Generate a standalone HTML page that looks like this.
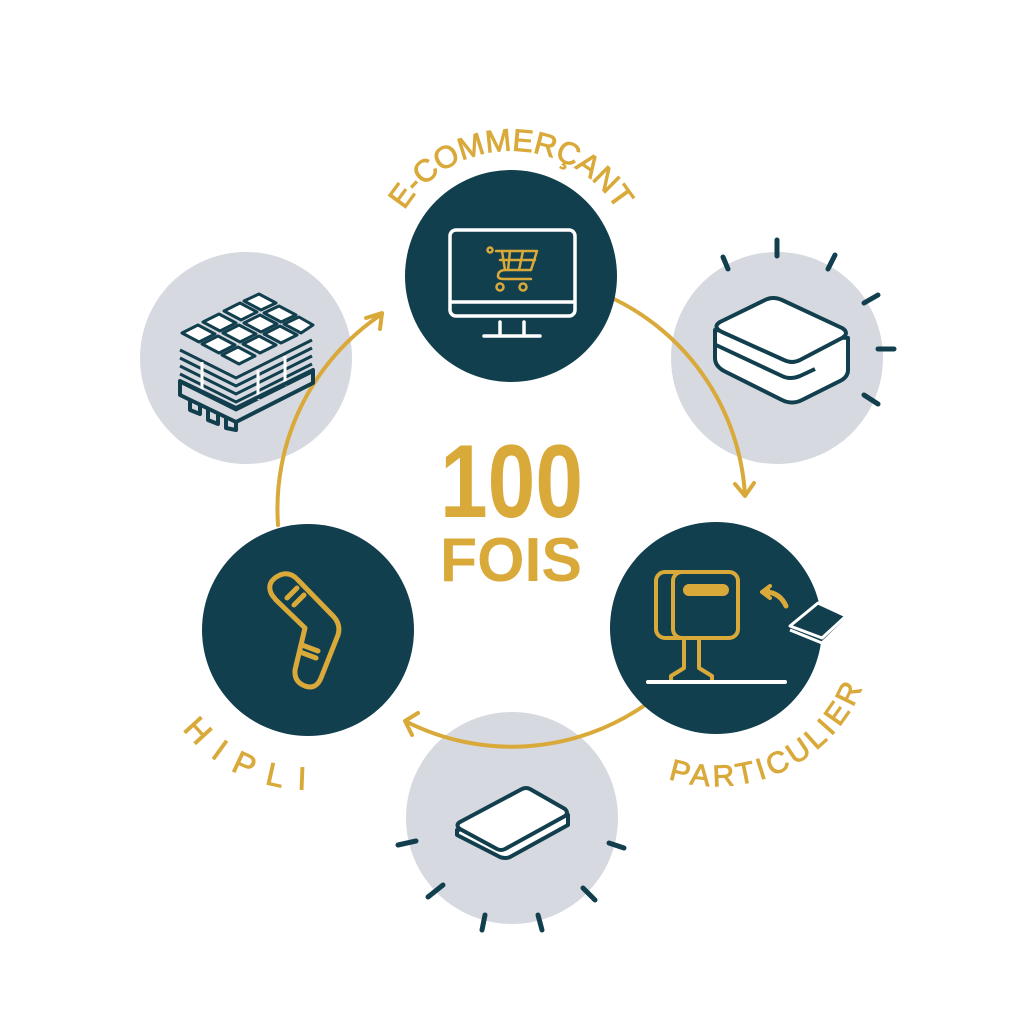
<!DOCTYPE html>
<html><head><meta charset="utf-8"><style>html,body{margin:0;padding:0;background:#fff}svg{display:block}</style></head>
<body>
<svg width="1024" height="1024" viewBox="0 0 1024 1024" xmlns="http://www.w3.org/2000/svg" font-family="Liberation Sans, sans-serif">
<defs>
<path id="pTop" d="M 393.5,233.2 A 125,125 0 0 1 628.5,233.2"/>
<path id="pRight" d="M 637,765 A 158,158 0 0 0 871.6,655.4"/>
<path id="pLeft" d="M 169.4,710 A 160,160 0 0 0 322,789"/>
</defs>
<circle cx="777" cy="358" r="106" fill="#d6d9e0"/>
<circle cx="512" cy="818" r="106" fill="#d6d9e0"/>
<circle cx="246" cy="358" r="106" fill="#d6d9e0"/>
<g fill="none" stroke="#d9a93a" stroke-width="4" stroke-linecap="round" stroke-linejoin="round">
<path d="M 612,298 A 234,234 0 0 1 745,495"/>
<path d="M 735,484 L 745,496 L 754,483"/>
<path d="M 645,705 A 234,234 0 0 1 407,722"/>
<path d="M 418,713 L 405,721 L 412,735"/>
<path d="M 278,525 A 234,234 0 0 1 382,314"/>
<path d="M 366,318 L 382,313 L 380,329"/>
</g>
<circle cx="511" cy="276" r="106" fill="#123f4e"/>
<circle cx="716" cy="628" r="106" fill="#123f4e"/>
<circle cx="308" cy="630" r="106" fill="#123f4e"/>
<g stroke="#123f4e" stroke-width="5" stroke-linecap="round">
<line x1="723" y1="257" x2="728" y2="269"/><line x1="777" y1="240" x2="777" y2="256"/>
<line x1="835" y1="255" x2="828" y2="269"/><line x1="878" y1="295" x2="864" y2="303"/>
<line x1="878" y1="349" x2="894" y2="349"/><line x1="864" y1="395" x2="878" y2="404"/>
<line x1="398" y1="845" x2="416" y2="841"/><line x1="428" y1="897" x2="443" y2="885"/>
<line x1="485" y1="915" x2="482" y2="930"/><line x1="538" y1="915" x2="542" y2="930"/>
<line x1="583" y1="888" x2="595" y2="900"/><line x1="609" y1="843" x2="624" y2="848"/>
</g>
<g stroke="#123f4e" stroke-width="4" fill="#fff" stroke-linejoin="round">
<path d="M 715,330 L 715,358 Q 715,366 724,371 L 782,400 Q 792,405 802,400 L 840,381 Q 848,377 848,370 L 848,338 Z"/>
<path d="M 720,322 L 765,300 Q 773,296 782,300 L 842,328 Q 850,333 842,338 L 800,360 Q 792,364 784,360 L 722,332 Q 712,327 720,322 Z"/>
<path d="M 716,345 L 782,376 Q 790,380 800,376 L 815,369" fill="none"/>
</g>
<g stroke="#123f4e" stroke-width="4" fill="#fff" stroke-linejoin="round">
<path d="M 457,830 L 457,835 L 500,857 Q 505,859 510,857 L 568,825 L 568,815 Z"/>
<path d="M 460,822 L 522,789 Q 526,787 530,789 L 565,809 Q 569,813 565,816 L 505,849 Q 501,851 497,849 L 460,829 Q 455,825 460,822 Z"/>
</g>
<g stroke="#123f4e" stroke-width="3" fill="none">
<path d="M 180,350 L 236,378 L 312,340"/>
<path d="M 180,358 L 236,386 L 312,348"/>
<path d="M 180,366 L 236,394 L 312,356"/>
<path d="M 180,374 L 236,402 L 312,364"/>
<path d="M 180,382 L 236,410 L 312,372"/>
<path d="M 202,362 L 202,392 M 258,370 L 258,400 M 285,356 L 285,386" stroke="#fff" stroke-width="3"/>
</g>
<g stroke="#123f4e" stroke-width="3" fill="#fff" stroke-linejoin="round">
<path d="M 182,333 L 198,325 L 215,334 L 199,342 Z"/><path d="M 203,322 L 219,314 L 236,323 L 220,331 Z"/>
<path d="M 224,311 L 240,303 L 257,312 L 241,320 Z"/><path d="M 244,301 L 259,294 L 276,303 L 261,310 Z"/>
<path d="M 202,344 L 218,336 L 235,345 L 219,353 Z"/><path d="M 223,333 L 239,325 L 256,334 L 240,342 Z"/>
<path d="M 244,323 L 260,315 L 277,324 L 261,332 Z"/><path d="M 264,313 L 279,306 L 296,315 L 281,322 Z"/>
<path d="M 222,355 L 238,347 L 255,356 L 239,364 Z"/><path d="M 243,344 L 259,336 L 276,345 L 260,353 Z"/>
<path d="M 264,334 L 280,326 L 297,335 L 281,343 Z"/><path d="M 284,324 L 299,317 L 313,325 L 301,333 Z"/>
</g>
<g stroke="#123f4e" stroke-width="4" fill="none" stroke-linejoin="round">
<path d="M 180,381 L 236,408 L 313,370 L 313,383 L 236,422 L 180,395 Z"/>
<path d="M 190,400 L 190,410 L 200,414 L 200,404 M 208,408 L 208,420 L 218,424 L 218,414 M 226,418 L 226,428 L 236,430 L 236,422"/>
</g>
<g stroke="#fff" stroke-width="3.5" fill="none" stroke-linecap="round">
<rect x="450" y="230" width="125" height="86" rx="6"/>
<line x1="451" y1="302" x2="574" y2="302"/>
<line x1="500" y1="322" x2="500" y2="334"/><line x1="524" y1="322" x2="524" y2="334"/>
<line x1="484" y1="336" x2="540" y2="336"/>
</g>
<g stroke="#d9a93a" stroke-width="2.5" fill="none" stroke-linecap="round" stroke-linejoin="round">
<circle cx="490" cy="250" r="2.5"/>
<path d="M 496,251 L 537,251 L 531,270 L 506,270 Q 498,270 498,276 Q 498,279 504,279 L 531,279"/>
<path d="M 500,260 L 535,260 M 510,251 L 508,270 M 523,251 L 519,270 M 502,251 L 505,270"/>
<circle cx="500" cy="287" r="3.5"/><circle cx="523" cy="287" r="3.5"/>
</g>
<g stroke="#d9a93a" stroke-width="4" fill="none" stroke-linecap="round" stroke-linejoin="round">
<rect x="656" y="572" width="60" height="66" rx="9"/>
<rect x="673" y="572" width="65" height="66" rx="9" fill="#123f4e"/>
<rect x="685" y="586" width="42" height="8" rx="4" fill="#d9a93a"/>
<path d="M 684,638 L 684,668 L 671,676 L 671,680 M 699,638 L 699,668 L 712,676 L 712,680"/>
<path d="M 786,606 Q 780,593 767,592" stroke-width="5"/>
<path d="M 770,586 L 762,592 L 770,598" fill="#d9a93a"/>
</g>
<line x1="648" y1="682" x2="785" y2="682" stroke="#fff" stroke-width="4" stroke-linecap="round"/>
<g stroke="#fff" stroke-width="3" fill="#123f4e" stroke-linejoin="round">
<path d="M 790,630 L 822,643 L 846,620 L 846,616"/>
<path d="M 790,626 L 818,603 L 846,616 L 822,638 Z"/>
</g>
<g stroke="#d9a93a" stroke-width="5" fill="none" stroke-linecap="round" stroke-linejoin="round">
<path d="M 272,595 Q 265,582 280,575 Q 290,571 298,580 L 334,617 Q 341,625 338,635 L 321,678 Q 316,690 305,686 Q 294,682 295,670 L 305,628 L 276,600 Z"/>
<path d="M 287,598 L 297,588 M 294,605 L 304,595 M 300,652 L 316,658 M 302,645 L 318,651"/>
</g>
<text x="440" y="517" font-size="104" font-weight="bold" fill="#d9a93a" textLength="143" lengthAdjust="spacingAndGlyphs">100</text>
<text x="440" y="581" font-size="62" font-weight="bold" fill="#d9a93a" textLength="142" lengthAdjust="spacingAndGlyphs">FOIS</text>
<g fill="#d9a93a" stroke="#d9a93a" stroke-width="0.9">
<text font-size="31" textLength="255"><textPath href="#pTop" startOffset="50%" text-anchor="middle">E-COMMERÇANT</textPath></text>
<text font-size="30" textLength="235"><textPath href="#pRight" startOffset="50%" text-anchor="middle">PARTICULIER</textPath></text>
<text font-size="32" textLength="142"><textPath href="#pLeft" startOffset="52%" text-anchor="middle">HIPLI</textPath></text>
</g>
</svg>
</body></html>
